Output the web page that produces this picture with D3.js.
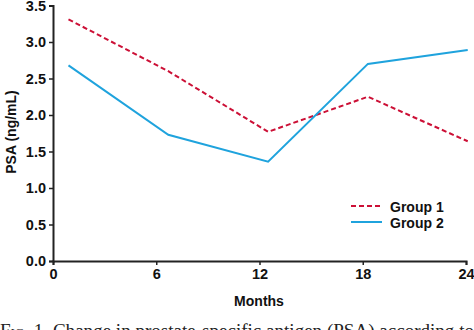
<!DOCTYPE html>
<html><head><meta charset="utf-8">
<script src="https://cdn.jsdelivr.net/npm/d3@7"></script>
<style>body{margin:0;background:#fff}svg{display:block}</style>
</head><body>
<svg id="c" width="474" height="330"></svg>
<script>
const months = [0.9, 6.7, 12.5, 18.3, 24.1];
const group1 = [3.31, 2.60, 1.77, 2.25, 1.64];
const group2 = [2.68, 1.73, 1.36, 2.70, 2.89];
const xTicks = [0, 6, 12, 18, 24];
const yTicks = [0, 0.5, 1, 1.5, 2, 2.5, 3, 3.5];
const seriesNames = ["Group 1", "Group 2"];
const colors = ["#cc1036", "#1fa3dd"];

const svg = d3.select("#c");
const x = d3.scaleLinear().domain([0, 24]).range([53, 466]);
const y = d3.scaleLinear().domain([0, 3.5]).range([261, 5.5]);
const font = "Arial, 'Liberation Sans', sans-serif";

const xa = svg.append("g").attr("transform", "translate(0,261)")
  .call(d3.axisBottom(x).tickValues(xTicks).tickSize(4).tickPadding(4).tickFormat(d3.format("d")));
const ya = svg.append("g").attr("transform", "translate(53,0)")
  .call(d3.axisLeft(y).tickValues(yTicks).tickSize(4).tickPadding(3).tickFormat(d3.format(".1f")));
[xa, ya].forEach(a => {
  a.select(".domain").attr("stroke", "#222").attr("stroke-width", 2);
  a.selectAll(".tick line").attr("stroke", "#222").attr("stroke-width", 1.5);
  a.selectAll("text").attr("font-family", font).attr("font-size", 14.5).attr("font-weight", "bold").attr("fill", "#111");
});

svg.append("text").attr("x", 259).attr("y", 306).attr("text-anchor", "middle")
  .attr("font-family", font).attr("font-size", 14).attr("font-weight", "bold").attr("fill", "#111").text("Months");
svg.append("text").attr("transform", "translate(16,132) rotate(-90)").attr("text-anchor", "middle")
  .attr("font-family", font).attr("font-size", 14).attr("font-weight", "bold").attr("fill", "#111").text("PSA (ng/mL)");

const line = d3.line().x(d => x(d[0])).y(d => y(d[1]));
[group1, group2].forEach((g, i) => {
  svg.append("path").datum(months.map((m, j) => [m, g[j]]))
    .attr("d", line).attr("fill", "none").attr("stroke", colors[i]).attr("stroke-width", 2)
    .attr("stroke-dasharray", i === 0 ? "5,3" : null);
});

seriesNames.forEach((n, i) => {
  const ly = 206 + i * 16;
  svg.append("line").attr("x1", 351).attr("x2", 382).attr("y1", ly).attr("y2", ly)
    .attr("stroke", colors[i]).attr("stroke-width", 2).attr("stroke-dasharray", i === 0 ? "5,3" : null);
  svg.append("text").attr("x", 390).attr("y", ly + 5.5).attr("font-family", font).attr("font-size", 14)
    .attr("font-weight", "bold").attr("fill", "#111").text(n);
});

svg.append("text").attr("x", 0).attr("y", 337).attr("font-family", "'Liberation Serif', 'DejaVu Serif', serif")
  .attr("font-size", 19).attr("fill", "#222").attr("textLength", 474).attr("lengthAdjust", "spacingAndGlyphs")
  .html('<tspan font-variant="small-caps">Fig. 1.</tspan> Change in prostate-specific antigen (PSA) according to');
</script>
</body></html>
